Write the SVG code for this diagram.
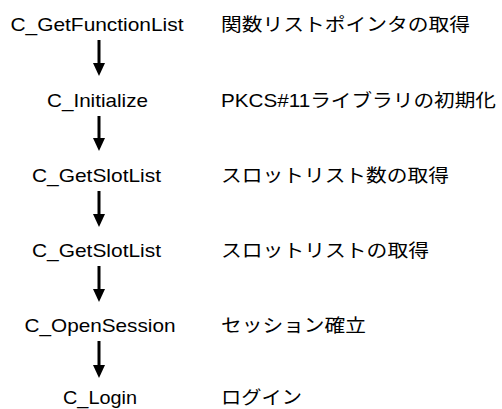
<svg xmlns="http://www.w3.org/2000/svg" width="502" height="409" viewBox="0 0 502 409">
  <defs>
    <style>
      .api { font-family: "Liberation Sans", Arial, sans-serif; font-size: 18.5px; fill: #000; text-anchor: middle; }
      .desc { font-family: "Liberation Sans", "Noto Sans CJK JP", sans-serif; font-size: 18.5px; fill: #000; }
      .flow { stroke: #000; stroke-width: 3; fill: none; marker-end: url(#head); }
    </style>
    <marker id="head" markerUnits="userSpaceOnUse" viewBox="0 0 13 12" markerWidth="13" markerHeight="12" refX="2" refY="6" orient="auto">
      <path d="M0,0 L13,6 L0,12 z" fill="#000"/>
    </marker>
  </defs>
  <rect width="502" height="409" fill="#fff"/>

  <g id="step1">
    <text class="api" x="97" y="31" textLength="173" lengthAdjust="spacingAndGlyphs">C_GetFunctionList</text>
    <text class="desc" x="221" y="31" textLength="249" lengthAdjust="spacingAndGlyphs">関数リストポインタの取得</text>
  </g>
  <g id="step2">
    <text class="api" x="97.5" y="107" textLength="101" lengthAdjust="spacingAndGlyphs">C_Initialize</text>
    <text class="desc" x="221" y="107" textLength="275" lengthAdjust="spacingAndGlyphs">PKCS#11ライブラリの初期化</text>
  </g>
  <g id="step3">
    <text class="api" x="96.5" y="182" textLength="129" lengthAdjust="spacingAndGlyphs">C_GetSlotList</text>
    <text class="desc" x="221" y="182" textLength="228" lengthAdjust="spacingAndGlyphs">スロットリスト数の取得</text>
  </g>
  <g id="step4">
    <text class="api" x="96.5" y="257" textLength="129" lengthAdjust="spacingAndGlyphs">C_GetSlotList</text>
    <text class="desc" x="221" y="257" textLength="208" lengthAdjust="spacingAndGlyphs">スロットリストの取得</text>
  </g>
  <g id="step5">
    <text class="api" x="100" y="332" textLength="151" lengthAdjust="spacingAndGlyphs">C_OpenSession</text>
    <text class="desc" x="221" y="332" textLength="145" lengthAdjust="spacingAndGlyphs">セッション確立</text>
  </g>
  <g id="step6">
    <text class="api" x="100" y="404" textLength="74" lengthAdjust="spacingAndGlyphs">C_Login</text>
    <text class="desc" x="221" y="404" textLength="81" lengthAdjust="spacingAndGlyphs">ログイン</text>
  </g>

  <g id="connectors">
    <line class="flow" x1="99" y1="40" x2="99" y2="65"/>
    <line class="flow" x1="99" y1="116" x2="99" y2="140"/>
    <line class="flow" x1="99" y1="191" x2="99" y2="216"/>
    <line class="flow" x1="99" y1="266" x2="99" y2="291"/>
    <line class="flow" x1="99" y1="341" x2="99" y2="367"/>
  </g>
</svg>
